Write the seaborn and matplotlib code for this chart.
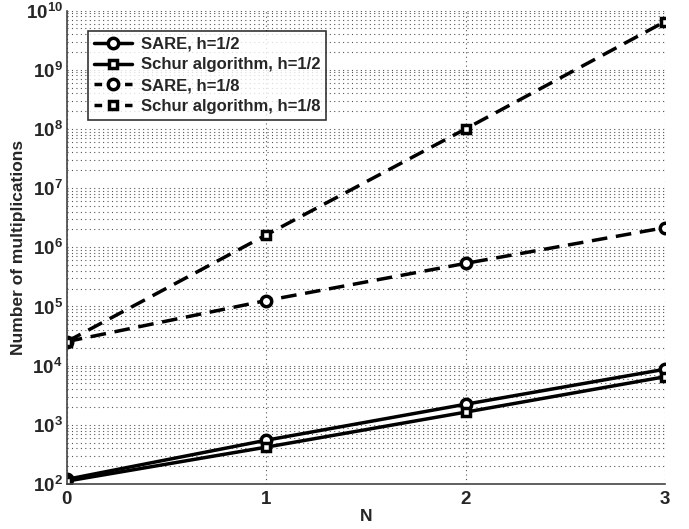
import math
import matplotlib
matplotlib.use("Agg")
import matplotlib.pyplot as plt
import matplotlib.ticker as mticker
import seaborn as sns
import pandas as pd

N = [0, 1, 2, 3]
sare_h2 = [120, 550, 2230, 8700]
schur_h2 = [112, 420, 1640, 6500]
sare_h8 = [25500, 126000, 535000, 2.15e6]
schur_h8 = [25500, 1.62e6, 1.0e8, 6.5e9]
labels = ["SARE, h=1/2", "Schur algorithm, h=1/2", "SARE, h=1/8", "Schur algorithm, h=1/8"]

sns.set_style("white")
plt.rcParams["font.family"] = ["Liberation Sans", "DejaVu Sans"]
plt.rcParams["font.weight"] = "bold"
plt.rcParams["mathtext.fontset"] = "custom"
plt.rcParams["mathtext.bf"] = "Liberation Sans:bold"
plt.rcParams["mathtext.rm"] = "Liberation Sans:bold"

fig = plt.figure(figsize=(6.89, 5.29), dpi=100)
ax = fig.add_axes([0.097, 0.085, 0.868, 0.895])

series = [sare_h2, schur_h2, sare_h8, schur_h8]
markers = ["o", "s", "o", "s"]
msizes = [7.5, 5.8, 7.5, 5.8]
dashed = [False, False, True, True]
for vals, lab, mk, ms, ds in zip(series, labels, markers, msizes, dashed):
    df = pd.DataFrame({"N": N, "v": vals})
    sns.lineplot(data=df, x="N", y="v", ax=ax, color="black", lw=2.5,
                 marker=mk, markersize=ms, markerfacecolor="white",
                 markeredgecolor="black", markeredgewidth=2.5,
                 linestyle=(0, (4.5, 2.5)) if ds else "-", label=lab)

ax.set_yscale("log")
ax.set_xlim(0, 3)
ax.set_ylim(1e2, 1e10)
ax.set_xticks([0, 1, 2, 3])
ax.yaxis.set_major_locator(mticker.FixedLocator([10.0 ** k for k in range(2, 11)]))
ax.yaxis.set_minor_locator(mticker.FixedLocator([m * 10.0 ** k for k in range(2, 10) for m in range(2, 10)]))
ax.yaxis.set_major_formatter(mticker.FuncFormatter(lambda v, p: r"$\mathbf{10^{%d}}$" % round(math.log10(v))))
ax.yaxis.set_minor_formatter(mticker.NullFormatter())
ax.tick_params(axis="both", which="both", direction="in", labelsize=13.5)
ax.tick_params(axis="y", which="major", length=5, pad=3)
ax.tick_params(axis="y", which="minor", length=3)
ax.tick_params(axis="x", which="major", length=5, pad=5)
for t in ax.get_xticklabels():
    t.set_fontweight("bold")

ax.grid(True, which="major", axis="both", color="#555555", linestyle=(0, (1, 3)), linewidth=0.8)
ax.grid(True, which="minor", axis="y", color="#555555", linestyle=(0, (1, 3)), linewidth=0.8)

for s in ["top", "right"]:
    ax.spines[s].set_visible(False)
for s in ["left", "bottom"]:
    ax.spines[s].set_color("#444444")
    ax.spines[s].set_linewidth(1.2)

ax.set_xlabel("N", fontsize=12.5, fontweight="bold", labelpad=1)
ax.set_ylabel("Number of multiplications", fontsize=12.5, fontweight="bold", labelpad=0)

leg = ax.legend(loc="upper left", frameon=True, fancybox=False, fontsize=12,
                handlelength=2.3, borderpad=0.35, labelspacing=0.35,
                handletextpad=0.5, bbox_to_anchor=(0.022, 0.975))
leg.get_frame().set_edgecolor("black")
leg.get_frame().set_linewidth(1.2)
for t in leg.get_texts():
    t.set_fontweight("bold")
for h, ds in zip(leg.get_lines(), dashed):
    if ds:
        h.set_linestyle((0, (2.2, 6.6, 2.2, 0.1)))

fig.savefig("out.png", dpi=100)
